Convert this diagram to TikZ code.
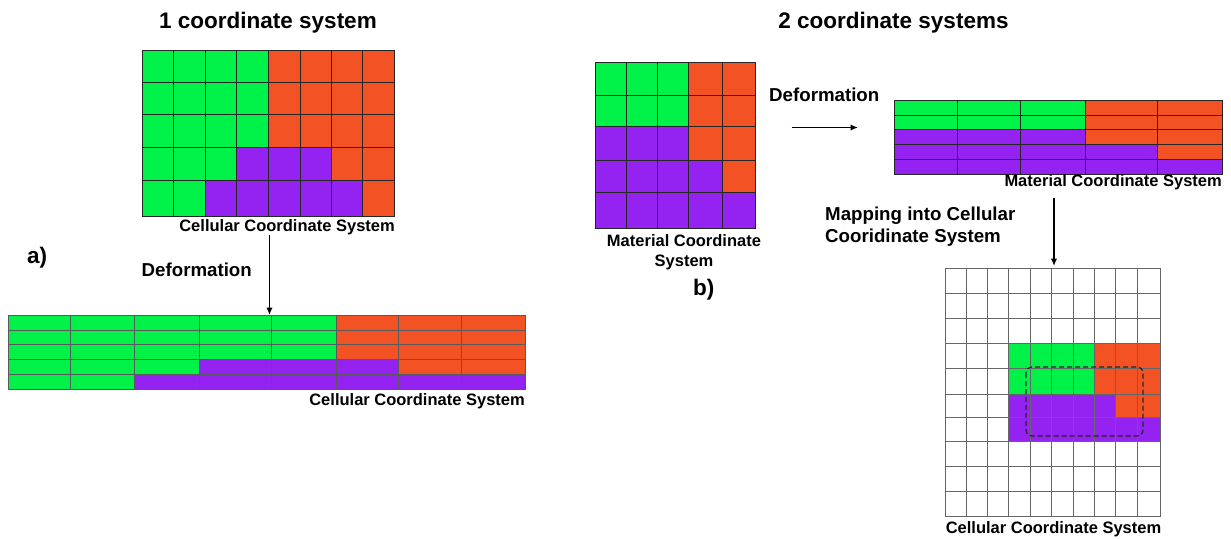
\documentclass[tikz,border=0pt]{standalone}
\usepackage{fontspec}
\setmainfont{Liberation Sans}
\usetikzlibrary{arrows.meta}
\definecolor{G}{RGB}{0,242,72}
\definecolor{O}{RGB}{242,82,36}
\definecolor{P}{RGB}{148,34,240}
\definecolor{W}{RGB}{255,255,255}
% #1 style, #2 x boundaries, #3 y boundaries, #4 rows of cell colours
\newcommand\cellgrid[4]{%
  \foreach \row [count=\j from 0] in {#4} {
    \foreach \c [count=\i from 0] in \row {
      \pgfmathsetmacro\xa{{#2}[\i]}
      \pgfmathsetmacro\xb{{#2}[\i+1]}
      \pgfmathsetmacro\ya{{#3}[\j]}
      \pgfmathsetmacro\yb{{#3}[\j+1]}
      \filldraw[#1, fill=\c] (\xa,\ya) rectangle (\xb,\yb);
    }
  }%
}
\tikzset{
  titletext/.style={font=\fontsize{22.5}{27}\selectfont\bfseries, inner sep=0pt},
  labtext/.style={font=\fontsize{16.5}{20}\selectfont\bfseries, inner sep=0pt},
  bigtext/.style={font=\fontsize{18.7}{21.5}\selectfont\bfseries, inner sep=0pt},
  arr/.style={line width=1.6pt, -{Latex[length=7.5pt,width=6.5pt]}},
  gridA/.style={draw=black!85, line width=0.7pt},
  gridB/.style={draw=black!65, line width=0.6pt},
  gridC/.style={draw=black!60, line width=0.6pt},
  mapbox/.style={draw=black!85, dashed, dash pattern=on 5pt off 3pt, line width=1.2pt, rounded corners=6pt}
}
\begin{document}
\begin{tikzpicture}[x=1pt,y=-1pt]
\fill[white] (0,0) rectangle (1231,538);
\useasboundingbox (0,0) rectangle (1231,538);

% titles
\node[titletext, anchor=base] (t1) at (268,28) {1 coordinate system};
\node[titletext, anchor=base] (t2) at (893.5,28) {2 coordinate systems};

% ---------- a) one coordinate system ----------
\cellgrid{gridA}{142,173.5,205,236.5,268,300,331.5,362.5,394}{50,82.5,114.5,147,180,216}
  {{G,G,G,G,O,O,O,O},{G,G,G,G,O,O,O,O},{G,G,G,G,O,O,O,O},{G,G,G,P,P,P,O,O},{G,G,P,P,P,P,P,O}}
\node[labtext, anchor=base east] (lA) at (395,231.5) {Cellular Coordinate System};
\node[titletext, anchor=base west] (la) at (27,263) {a)};
\node[bigtext, anchor=base west] (dA) at (141.5,276) {Deformation};
\coordinate (aS) at (269.5,235);
\coordinate (aE) at (269.5,315);
\draw[arr] (aS) -- (aE);

\cellgrid{gridB}{8,70,134,199,271,336,398,461,525}{315,330.5,344.5,359.5,374.5,389}
  {{G,G,G,G,G,O,O,O},{G,G,G,G,G,O,O,O},{G,G,G,G,G,O,O,O},{G,G,G,P,P,P,O,O},{G,G,P,P,P,P,P,P}}
\node[labtext, anchor=base east] (lB) at (525,405) {Cellular Coordinate System};

% ---------- b) two coordinate systems ----------
\cellgrid{gridA}{595.7,626.7,657.3,688.3,722.3,755}{62.7,95,126.7,160,192.3,228.3}
  {{G,G,G,O,O},{G,G,G,O,O},{P,P,P,O,O},{P,P,P,P,O},{P,P,P,P,P}}
\node[labtext, anchor=north, align=center] (lM) at (684,234) {Material Coordinate\\System};
\node[titletext, anchor=base west] (lb) at (693,295) {b)};

\node[bigtext, anchor=base west] (dB) at (769,101) {Deformation};
\coordinate (bS) at (791.5,127.5);
\coordinate (bE) at (858,127.5);
\draw[arr] (bS) -- (bE);

\cellgrid{gridA}{894,957,1020,1085,1157,1222}{100,115,129.3,144,159.3,174}
  {{G,G,G,O,O},{G,G,G,O,O},{P,P,P,O,O},{P,P,P,P,O},{P,P,P,P,P}}
\node[labtext, anchor=base east] (lR) at (1222,186) {Material Coordinate System};

\node[bigtext, anchor=north west, align=left] (mp) at (825,207) {Mapping into Cellular\\Cooridinate System};
\coordinate (cS) at (1054,198);
\coordinate (cE) at (1054,266);
\draw[arr] (cS) -- (cE);

\cellgrid{gridC}{945.7,966,987.3,1008.3,1030,1051.7,1073.3,1094.3,1115,1137.3,1160}{268.3,293.3,318.3,343.3,368.3,394,417.7,441.7,466.7,491.7,516.7}
  {{W,W,W,W,W,W,W,W,W,W},{W,W,W,W,W,W,W,W,W,W},{W,W,W,W,W,W,W,W,W,W},
   {W,W,W,G,G,G,G,O,O,O},{W,W,W,G,G,G,G,O,O,O},{W,W,W,P,P,P,P,P,O,O},
   {W,W,W,P,P,P,P,P,P,P},{W,W,W,W,W,W,W,W,W,W},{W,W,W,W,W,W,W,W,W,W},{W,W,W,W,W,W,W,W,W,W}}
\coordinate (mA) at (1026,367);
\coordinate (mB) at (1143,436);
\draw[mapbox] (mA) rectangle (mB);
\node[labtext, anchor=base] (lC) at (1053.5,533) {Cellular Coordinate System};
\end{tikzpicture}
\end{document}
